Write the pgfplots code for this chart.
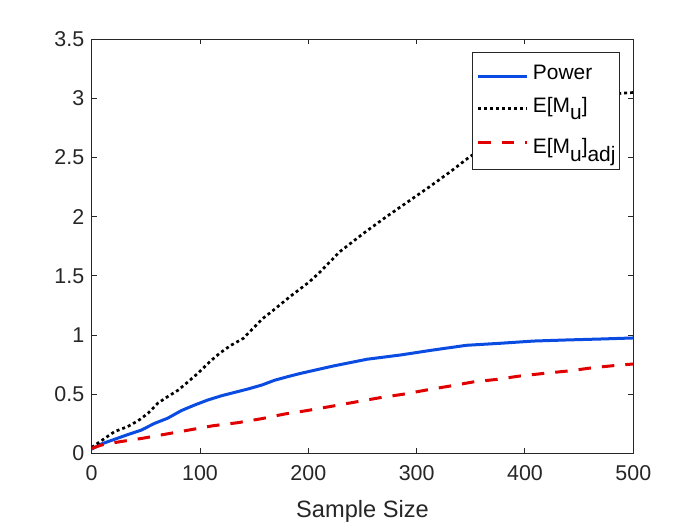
\documentclass[border=0pt]{standalone}
\usepackage{pgfplots}
\pgfplotsset{compat=1.18}
\usepackage{fontspec}
\setmainfont{Liberation Sans}
\definecolor{mblue}{RGB}{10,75,225}
\definecolor{mred}{RGB}{225,0,0}
\definecolor{axgray}{gray}{0.15}
\newcommand{\sub}[1]{\raisebox{-7.7bp}{#1}}

\begin{document}
\begin{tikzpicture}
\useasboundingbox (-91.7bp,-71.7bp) rectangle (608.3bp,453.3bp);
\begin{axis}[
  at={(0,0)}, anchor=south west,
  scale only axis, width=541.6bp, height=414bp,
  xmin=0, xmax=500, ymin=0, ymax=3.5,
  xtick={0,100,...,500}, ytick={0,0.5,...,3.5},
  yticklabel style={/pgf/number format/fixed, xshift=-4bp},
  xticklabel style={yshift=-9bp},
  tick align=inside, major tick length=5bp,
  axis line style={axgray, line width=1bp},
  tick style={axgray, line width=1bp},
  ticklabel style={font=\fontsize{21.5}{24}\selectfont, text=axgray},
  /pgf/number format/assume math mode=true,
  xlabel={Sample Size},
  xlabel style={font=\fontsize{23.7}{26}\selectfont, text=axgray, yshift=-13bp},
  legend style={at={(0.9755,0.9693)}, anchor=north east, draw=axgray, line width=1bp,
    font=\fontsize{21}{24}\selectfont, text=black, fill=white,
    inner xsep=4bp, inner ysep=3.6bp, row sep=0bp, column sep=4bp,
    nodes={inner sep=0bp, text depth=, text height=}},
  legend cell align=left,
  legend image code/.code={\draw[#1] (0bp,0bp) -- (49bp,0bp);},
]
\addplot[mblue, line width=3bp, line join=round] coordinates {
(0,0.035) (9,0.079) (21,0.118) (33,0.157) (46,0.197) (58,0.253) (70,0.296) (83,0.362)
(95,0.408) (107,0.45) (120,0.487) (132,0.515) (144,0.543) (157,0.577) (169,0.618)
(181,0.648) (193,0.676) (223,0.738) (254,0.795) (285,0.831) (315,0.873) (346,0.913)
(377,0.93) (408,0.949) (438,0.958) (469,0.966) (500,0.975)};
\addlegendentry{\rule[-17.1bp]{0pt}{40.8bp}Power}
\addplot[black, line width=2.7bp, dash pattern=on 3bp off 3bp] coordinates {
(0,0.05) (9,0.107) (21,0.183) (33,0.225) (43,0.276) (52,0.338) (61,0.423) (70,0.478)
(80,0.535) (89,0.605) (98,0.676) (109,0.774) (118,0.845) (128,0.91) (140,0.972)
(149,1.057) (158,1.14) (166,1.197) (183,1.324) (201,1.45) (211,1.535) (229,1.704)
(251,1.86) (272,2.0) (294,2.14) (312,2.254) (331,2.38) (349,2.507) (370,2.63)
(390,2.74) (410,2.84) (430,2.92) (450,2.98) (470,3.02) (490,3.045) (500,3.05)};
\addlegendentry{E[M\sub{u}]}
\addplot[mred, line width=3bp, dash pattern=on 12.5bp off 11bp] coordinates {
(0,0.042) (9,0.07) (26,0.098) (47,0.127) (69,0.163) (90,0.197) (112,0.233) (135,0.259)
(157,0.293) (178,0.332) (198,0.36) (223,0.40) (245,0.436) (266,0.47) (288,0.50)
(309,0.535) (331,0.569) (352,0.603) (374,0.625) (395,0.653) (418,0.676) (442,0.698)
(463,0.724) (485,0.744) (500,0.755)};
\addlegendentry{\rule{0pt}{33.9bp}E[M\sub{u}]\sub{adj}}
\end{axis}
\end{tikzpicture}
\end{document}
